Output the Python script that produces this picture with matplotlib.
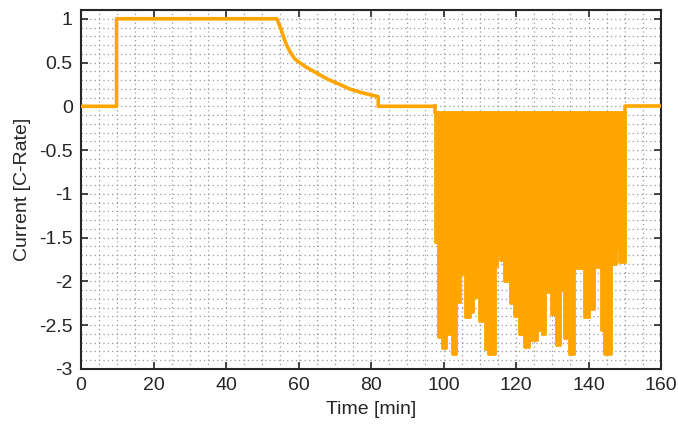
import numpy as np
import matplotlib.pyplot as plt
from matplotlib.ticker import MultipleLocator

# charge part: rest, CC, CV, rest
charge_t = [0, 9.8, 9.8, 54.0, 55.0, 55.8, 56.7, 57.7, 58.8, 59.9, 62.0, 65.0, 68.0, 71.4, 74.0, 77.0, 80.0, 82.0, 82.0, 97.6]
charge_i = [0, 0, 1.0, 1.0, 0.90, 0.80, 0.70, 0.62, 0.55, 0.51, 0.45, 0.38, 0.31, 0.25, 0.20, 0.16, 0.13, 0.11, 0.0, 0.0]

# discharge pulses: segment edges [min] and lowest current in each segment
pulse_edges = [97.6, 98.4, 99.5, 100.6, 101.3, 102.2, 103.4, 103.7, 104.6, 105.4, 106.0,
               107.2, 108.1, 108.7, 109.9, 111.3, 112.4, 114.2, 114.8, 115.7, 116.8,
               118.4, 119.5, 120.9, 122.2, 123.6, 125.7, 127.1, 128.1, 128.3, 129.6,
               131.0, 132.2, 133.3, 134.7, 136.1, 138.8, 140.2, 141.4, 143.4, 144.3,
               146.1, 147.5, 148.4, 150.0]
pulse_min = [-1.55, -2.64, -2.76, -2.48, -2.60, -2.83, -1.72, -2.24, -1.91, -1.87,
             -2.41, -2.35, -1.87, -2.18, -2.45, -2.77, -2.83, -1.82, -1.68, -1.76,
             -1.99, -2.25, -2.39, -2.60, -2.75, -2.67, -2.56, -2.60, -1.97, -2.12,
             -2.37, -2.73, -2.10, -2.65, -2.83, -1.85, -2.41, -2.31, -1.84, -2.56,
             -2.83, -1.80, -1.63, -1.78]
pulse_top = -0.07

# rest after discharge
rest_t = [150.0, 150.0, 160]
rest_i = [pulse_top, 0.0, 0.0]

col = '#FFA500'
fig = plt.figure(figsize=(6.78, 4.29), dpi=100)
ax = fig.add_axes([0.1195, 0.1399, 0.8555, 0.8368])

lw = 2.6
ax.plot(charge_t, charge_i, color=col, lw=lw, zorder=3)
ax.plot([pulse_edges[0], pulse_edges[0]], [0, pulse_top], color=col, lw=lw, zorder=3)
ax.plot(rest_t, rest_i, color=col, lw=lw, zorder=3)
ymins = pulse_min + [pulse_min[-1]]
ax.fill_between(pulse_edges, pulse_top, ymins, step='post', facecolor=col, lw=2.0,
                edgecolor=col, zorder=3)

ax.set_xlim(0, 160)
ax.set_ylim(-3, 1.1)
ax.xaxis.set_major_locator(MultipleLocator(20))
ax.xaxis.set_minor_locator(MultipleLocator(5))
ax.yaxis.set_minor_locator(MultipleLocator(0.1))
ax.set_yticks(np.arange(-3, 1.01, 0.5))
ax.set_yticklabels(['-3', '-2.5', '-2', '-1.5', '-1', '-0.5', '0', '0.5', '1'])

ax.grid(True, which='both', linestyle=(0, (1, 2.5)), color='#999999', lw=0.9)
ax.set_axisbelow(True)
ax.tick_params(which='major', direction='in', length=5, width=1.2, top=True, right=True,
               labelsize=14, colors='#262626', pad=6)
ax.tick_params(which='minor', length=0)
for s in ax.spines.values():
    s.set_linewidth(1.5)
    s.set_color('#262626')

ax.set_xlabel('Time [min]', fontsize=14, color='#262626', labelpad=5)
ax.set_ylabel('Current [C-Rate]', fontsize=14, color='#262626', labelpad=6)

for t in ax.get_xticklabels() + ax.get_yticklabels() + [ax.xaxis.label, ax.yaxis.label]:
    t.set_family(['Liberation Sans', 'DejaVu Sans'])

fig.savefig('out.png', dpi=100)
